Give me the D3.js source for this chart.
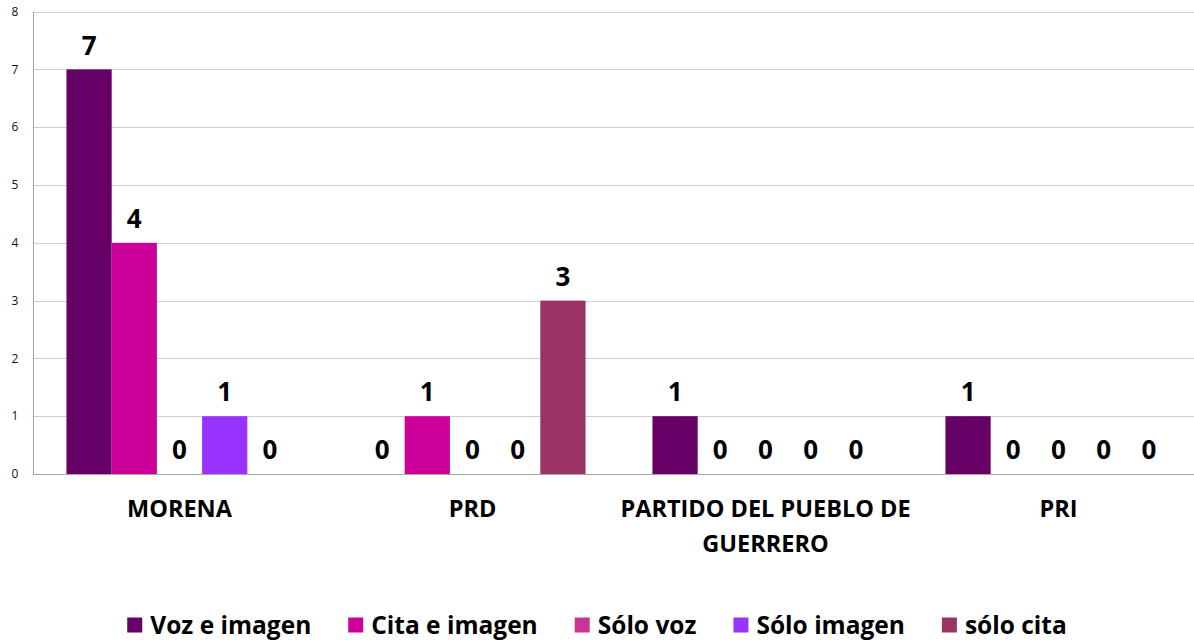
<!DOCTYPE html>
<html>
<head>
<meta charset="utf-8">
<script src="https://cdn.jsdelivr.net/npm/d3@7"></script>
<style>
  html, body { margin: 0; padding: 0; background: #fff; overflow: hidden; }
  svg { display: block; font-family: "Open Sans", sans-serif; }
</style>
</head>
<body>
<div id="chart"></div>
<script>
const categories = ["MORENA", "PRD", "PARTIDO DEL PUEBLO DE GUERRERO", "PRI"];
const series = ["Voz e imagen", "Cita e imagen", "Sólo voz", "Sólo imagen", "sólo cita"];
const colors = ["#660066", "#cc0099", "#cc3399", "#9933ff", "#993366"];
// one array per series, in category order
const vozImagen  = [7, 0, 1, 1];
const citaImagen = [4, 1, 0, 0];
const soloVoz    = [0, 0, 0, 0];
const soloImagen = [1, 0, 0, 0];
const soloCita   = [0, 3, 0, 0];
const values = [vozImagen, citaImagen, soloVoz, soloImagen, soloCita];
const yTicks = [0, 1, 2, 3, 4, 5, 6, 7, 8];

const width = 1194, height = 640;
const plot = {left: 33, right: 1205, top: 11.6, bottom: 474};

const svg = d3.select("#chart").append("svg")
  .attr("width", width).attr("height", height);

const y = d3.scaleLinear().domain([0, 8]).range([plot.bottom, plot.top]);
const x0 = d3.scaleBand().domain(categories).range([plot.left, plot.right]);
const x1 = d3.scaleBand().domain(series).range([0, x0.bandwidth()]).paddingOuter(0.74);

// gridlines
svg.append("g").selectAll("line")
  .data(yTicks.slice(1))
  .join("line")
    .attr("x1", plot.left).attr("x2", width)
    .attr("y1", d => Math.round(y(d)) + 0.5).attr("y2", d => Math.round(y(d)) + 0.5)
    .attr("stroke", "#d0d0d0").attr("stroke-width", 1);

// y tick labels
svg.append("g").selectAll("text")
  .data(yTicks)
  .join("text")
    .attr("x", 15).attr("y", d => y(d))
    .attr("dy", "0.35em")
    .attr("text-anchor", "middle")
    .attr("font-size", "12px")
    .attr("fill", "#111")
    .text(d => d);

// bars
const rows = [];
series.forEach((s, i) => categories.forEach((c, j) => rows.push({s, c, v: values[i][j], color: colors[i]})));

svg.append("g").selectAll("rect")
  .data(rows.filter(d => d.v > 0))
  .join("rect")
    .attr("x", d => x0(d.c) + x1(d.s))
    .attr("y", d => y(d.v))
    .attr("width", x1.bandwidth())
    .attr("height", d => y(0) - y(d.v))
    .attr("fill", d => d.color);

// data labels
svg.append("g").selectAll("text")
  .data(rows)
  .join("text")
    .attr("x", d => x0(d.c) + x1(d.s) + x1.bandwidth() / 2)
    .attr("y", d => y(d.v) - 24)
    .attr("dy", "0.35em")
    .attr("text-anchor", "middle")
    .attr("font-size", "26px")
    .attr("font-weight", "bold")
    .attr("fill", "#000")
    .text(d => d.v);

// axis lines
svg.append("line")
  .attr("x1", plot.left + 0.5).attr("x2", plot.left + 0.5)
  .attr("y1", plot.top).attr("y2", plot.bottom)
  .attr("stroke", "#a6a6a6");
svg.append("line")
  .attr("x1", plot.left).attr("x2", width)
  .attr("y1", plot.bottom + 0.5).attr("y2", plot.bottom + 0.5)
  .attr("stroke", "#a6a6a6");

// category labels, wrapped
const catText = svg.append("g").selectAll("text")
  .data(categories)
  .join("text")
    .attr("text-anchor", "middle")
    .attr("font-size", "23.5px")
    .attr("font-weight", "bold")
    .attr("fill", "#000");

catText.each(function(c) {
  const t = d3.select(this);
  const cx = x0(c) + x0.bandwidth() / 2;
  const words = c.split(" ");
  let line = [], lines = [];
  const probe = t.append("tspan");
  words.forEach(w => {
    line.push(w);
    probe.text(line.join(" "));
    if (probe.node().getComputedTextLength() > x0.bandwidth() + 5 && line.length > 1) {
      line.pop();
      lines.push(line.join(" "));
      line = [w];
    }
  });
  lines.push(line.join(" "));
  probe.remove();
  lines.forEach((l, i) => {
    t.append("tspan").attr("x", cx).attr("y", 509 + i * 35).attr("dy", "0.35em").text(l);
  });
});

// legend
const legend = svg.append("g");
const items = legend.selectAll("g")
  .data(series)
  .join("g");
items.append("rect")
  .attr("width", 15).attr("height", 15)
  .attr("y", -7.5)
  .attr("fill", (d, i) => colors[i]);
items.append("text")
  .attr("x", 23).attr("dy", "0.35em")
  .attr("font-size", "24.5px")
  .attr("font-weight", "bold")
  .attr("fill", "#000")
  .text(d => d);

let pos = 0;
const offsets = [];
items.each(function() {
  offsets.push(pos);
  const w = d3.select(this).select("text").node().getComputedTextLength();
  pos += 23 + w + 37;
});
const total = pos - 37;
const start = width / 2 - total / 2;
items.attr("transform", (d, i) => `translate(${start + offsets[i]},625)`);
</script>
</body>
</html>
